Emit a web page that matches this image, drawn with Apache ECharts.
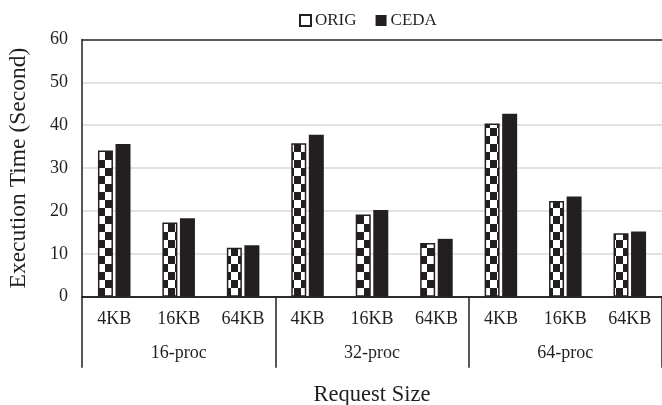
<!DOCTYPE html>
<html>
<head>
<meta charset="utf-8">
<script src="https://cdn.jsdelivr.net/npm/echarts@6/dist/echarts.min.js"></script>
<style>
  html, body { margin: 0; padding: 0; background: #fff; }
  #chart { width: 662px; height: 405px; }
</style>
</head>
<body>
<div id="chart"></div>
<script>
// request sizes (inner x labels) and process groups (outer x labels)
const sizes = ["4KB", "16KB", "64KB", "4KB", "16KB", "64KB", "4KB", "16KB", "64KB"];
const groups = ["16-proc", "32-proc", "64-proc"];
const origTimes = [34.1, 17.3, 11.4, 35.8, 19.2, 12.5, 40.4, 22.3, 14.8];
const cedaTimes = [35.6, 18.3, 12.0, 37.8, 20.2, 13.5, 42.7, 23.4, 15.2];

const ink = "#231f20";
const font = "'Liberation Serif', 'Times New Roman', serif";

// checkerboard fill for ORIG bars
function checker() {
  const c = document.createElement("canvas");
  c.width = 14;
  c.height = 16;
  const ctx = c.getContext("2d");
  ctx.fillStyle = "#fff";
  ctx.fillRect(0, 0, 14, 16);
  ctx.fillStyle = ink;
  ctx.fillRect(0, 0, 7, 8);
  ctx.fillRect(7, 8, 7, 8);
  return c;
}

const chart = echarts.init(document.getElementById("chart"));
chart.setOption({
  animation: false,
  textStyle: { fontFamily: font, color: ink },
  legend: {
    left: 294,
    top: 7,
    itemWidth: 11,
    itemHeight: 11,
    itemGap: 19,
    icon: "rect",
    textStyle: { fontFamily: font, fontSize: 17, color: ink, padding: [0, 0, 0, -1] },
    data: [
      { name: "ORIG", itemStyle: { color: "#fff", borderColor: ink, borderWidth: 2 } },
      { name: "CEDA" }
    ]
  },
  grid: { left: 82, right: 0, top: 39.5, bottom: 108.3, containLabel: false, outerBoundsMode: "none" },
  xAxis: [
    {
      type: "category",
      data: sizes,
      axisLine: { lineStyle: { color: ink, width: 1.5 } },
      axisTick: { show: false },
      axisLabel: { margin: 14, fontSize: 18, color: ink, fontFamily: font, interval: 0 },
      name: "Request Size",
      nameLocation: "middle",
      nameGap: 87,
      nameTextStyle: { fontSize: 22.5, color: ink, fontFamily: font }
    },
    {
      type: "category",
      data: groups,
      position: "bottom",
      axisLine: { show: false },
      axisTick: { show: true, length: 71, interval: 0, lineStyle: { color: ink, width: 1.5 } },
      axisLabel: { margin: 48, fontSize: 18, color: ink, fontFamily: font, interval: 0 }
    }
  ],
  yAxis: {
    type: "value",
    min: 0,
    max: 60,
    interval: 10,
    axisLine: { show: true, lineStyle: { color: ink, width: 1.5 } },
    axisTick: { show: false },
    axisLabel: { margin: 14, fontSize: 18, color: ink, fontFamily: font },
    splitLine: {
      lineStyle: {
        color: [ink, "#d9d9d9", "#d9d9d9", "#d9d9d9", "#d9d9d9", "#d9d9d9", ink],
        width: 1.5
      }
    },
    name: "Execution Time (Second)",
    nameLocation: "middle",
    nameGap: 51,
    nameTextStyle: { fontSize: 23.5, color: ink, fontFamily: font }
  },
  series: [
    {
      name: "ORIG",
      type: "bar",
      data: origTimes,
      barWidth: 15,
      barGap: "17%",
      itemStyle: {
        color: { image: checker(), repeat: "repeat" },
        borderColor: ink,
        borderWidth: 1.5
      },
      emphasis: { disabled: true }
    },
    {
      name: "CEDA",
      type: "bar",
      data: cedaTimes,
      barWidth: 15,
      itemStyle: { color: ink },
      emphasis: { disabled: true }
    }
  ]
});
</script>
</body>
</html>
